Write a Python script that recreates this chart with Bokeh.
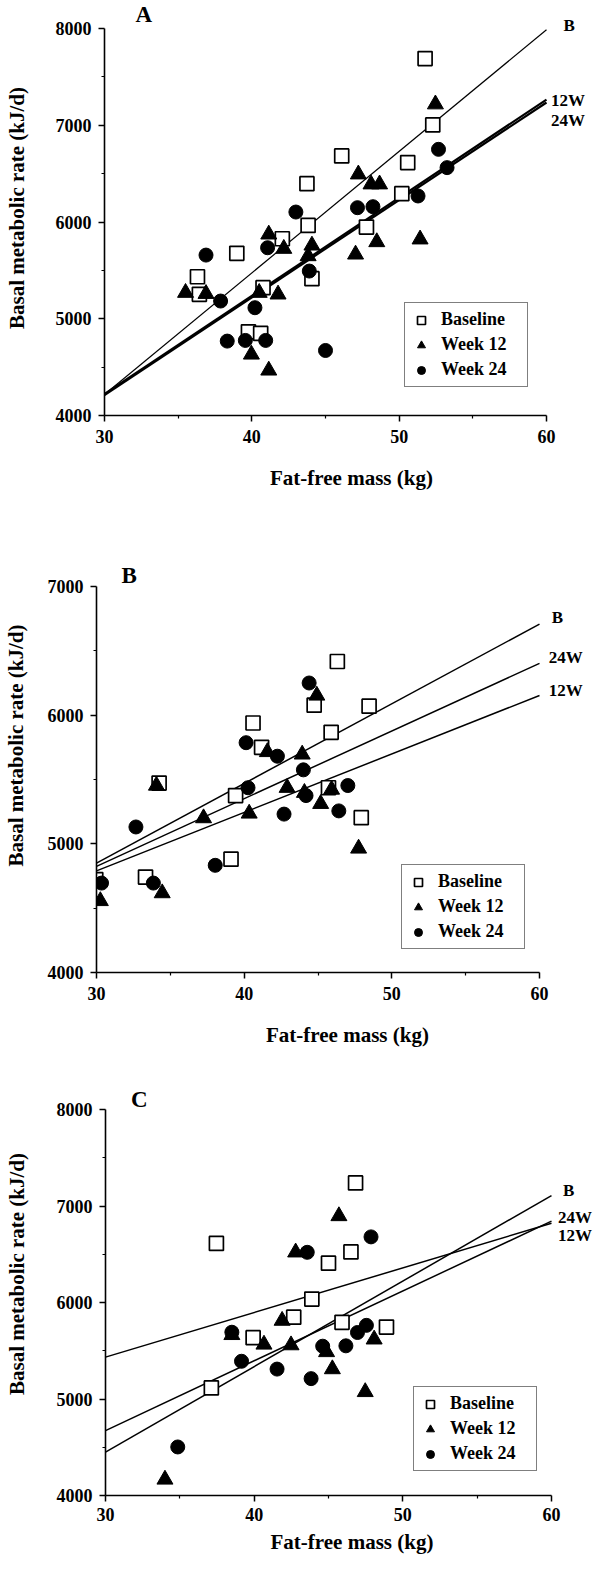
from bokeh.plotting import figure
from bokeh.models import Range1d, FixedTicker, Legend, LegendItem
from bokeh.core.properties import value
from bokeh.embed import file_html
from bokeh.resources import INLINE

FONT = "Liberation Serif"

# ---------------- data ----------------
series_names = ["Baseline", "Week 12", "Week 24"]
line_x = [30, 60]

# Panel A
a_base_x = [51.76, 52.28, 46.10, 50.58, 43.74, 50.18, 43.82, 47.78, 42.07, 38.98, 36.31, 36.44, 40.76, 44.08, 39.77, 40.60]
a_base_y = [7689, 7003, 6683, 6614, 6396, 6293, 5965, 5948, 5827, 5676, 5434, 5252, 5321, 5414, 4865, 4848]
a_w12_x = [52.46, 47.23, 48.09, 48.67, 41.15, 42.17, 44.08, 43.82, 47.04, 48.48, 51.42, 35.50, 36.89, 40.50, 41.78, 39.97, 41.15]
a_w12_y = [7217, 6493, 6390, 6390, 5872, 5724, 5758, 5648, 5665, 5793, 5821, 5269, 5258, 5269, 5252, 4631, 4466]
a_w24_x = [52.67, 53.25, 51.28, 42.99, 47.17, 48.22, 36.89, 41.07, 43.90, 37.88, 40.21, 38.33, 39.56, 40.94, 45.00]
a_w24_y = [6751, 6562, 6269, 6103, 6148, 6158, 5658, 5734, 5493, 5183, 5114, 4769, 4776, 4776, 4672]
a_line_base = [4217, 7987]
a_line_w12 = [4222, 7265]
a_line_w24 = [4212, 7235]
a_end_text = ["B", "12W", "24W"]
a_end_x = [61.15, 60.31, 60.31]
a_end_y = [8028, 7252, 7045]

# Panel B
b_base_x = [46.31, 44.74, 48.46, 40.60, 45.89, 41.18, 34.24, 39.42, 45.71, 47.93, 39.11, 33.32, 29.95]
b_base_y = [6417, 6078, 6070, 5939, 5867, 5750, 5472, 5375, 5436, 5203, 4881, 4742, 4722]
b_w12_x = [44.92, 41.57, 43.93, 34.06, 42.91, 45.92, 44.08, 45.18, 40.34, 37.25, 47.75, 34.45, 30.26]
b_w12_y = [6153, 5714, 5695, 5453, 5436, 5422, 5397, 5311, 5236, 5200, 4964, 4617, 4556]
b_w24_x = [44.40, 40.13, 42.25, 44.01, 40.26, 47.02, 44.19, 42.70, 46.41, 32.67, 38.04, 33.85, 30.34]
b_w24_y = [6250, 5786, 5681, 5575, 5436, 5453, 5375, 5231, 5256, 5131, 4833, 4695, 4695]
b_line_base = [4850, 6708]
b_line_w12 = [4790, 6153]
b_line_w24 = [4825, 6403]
b_end_text = ["B", "24W", "12W"]
b_end_x = [60.83, 60.62, 60.62]
b_end_y = [6756, 6450, 6189]

# Panel C
c_base_x = [46.82, 37.46, 46.51, 45.00, 43.88, 42.66, 45.91, 48.90, 39.93, 37.12]
c_base_y = [7239, 6612, 6524, 6407, 6036, 5848, 5795, 5745, 5635, 5115]
c_w12_x = [45.70, 42.79, 41.88, 38.50, 40.66, 42.48, 48.07, 44.87, 45.26, 47.47, 34.00]
c_w12_y = [6896, 6520, 5812, 5664, 5565, 5558, 5618, 5487, 5310, 5073, 4166]
c_w24_x = [47.86, 43.57, 38.50, 47.55, 46.95, 44.61, 46.17, 39.15, 41.54, 43.83, 34.86]
c_w24_y = [6680, 6520, 5692, 5763, 5689, 5547, 5551, 5391, 5310, 5211, 4503]
c_line_base = [4450, 7108]
c_line_w12 = [5434, 6821]
c_line_w24 = [4673, 6843]
c_end_text = ["B", "24W", "12W"]
c_end_x = [60.78, 60.44, 60.44]
c_end_y = [7161, 6884, 6690]

x_ticks = [30, 40, 50, 60]
x_minor = [35, 45, 55]


def make_panel(letter, ymax, bx, by, t12x, t12y, c24x, c24y,
               lb, l12, l24, line_widths, end_t, end_x, end_y, letter_pos,
               fl, ft, fw, fh, fig_h, legend_loc, xstand, xlabstand, ystand):
    fb = fig_h - ft - fh
    full_w = 598 - fl
    full_h = fh + ft
    x_end = 30 + full_w * 30.0 / fw
    y_end = 4000 + full_h * (ymax - 4000) / fh
    p = figure(frame_width=full_w, frame_height=full_h,
               min_border_left=fl, min_border_right=0,
               min_border_top=0, min_border_bottom=fb,
               x_range=Range1d(30, x_end), y_range=Range1d(4000, y_end),
               output_backend="svg", toolbar_location=None,
               background_fill_color="white", border_fill_color="white")
    p.outline_line_color = None
    p.grid.visible = False

    yt = list(range(4000, ymax + 1, 1000))
    ym = list(range(4500, ymax, 1000))
    p.yaxis.ticker = FixedTicker(ticks=yt, minor_ticks=ym)
    p.xaxis.ticker = FixedTicker(ticks=x_ticks, minor_ticks=x_minor)
    p.xaxis.bounds = (30, 60)
    p.yaxis.bounds = (4000, ymax)
    for ax in (p.xaxis[0], p.yaxis[0]):
        ax.axis_line_width = 1.6
        ax.axis_line_color = "black"
        ax.major_tick_line_width = 1.5
        ax.minor_tick_line_width = 1.2
        ax.major_tick_in = 0
        ax.major_tick_out = 6
        ax.minor_tick_in = 0
        ax.minor_tick_out = 3
        ax.major_label_text_font = FONT
        ax.major_label_text_font_style = "bold"
        ax.major_label_text_font_size = "18px"
        ax.major_label_text_color = "black"
        ax.axis_label_text_font = FONT
        ax.axis_label_text_font_style = "bold"
        ax.axis_label_text_color = "black"
    p.xaxis.axis_label_text_font_size = "21px"
    p.yaxis.axis_label_text_font_size = "21px"
    p.xaxis.axis_label = "Fat-free mass (kg)"
    p.yaxis.axis_label = "Basal metabolic rate (kJ/d)"
    p.yaxis.major_label_standoff = 7
    p.yaxis.axis_label_standoff = ystand
    p.xaxis.major_label_standoff = xlabstand
    p.xaxis.axis_label_standoff = xstand

    # regression lines
    p.line(line_x, lb, line_color="black", line_width=line_widths[0])
    p.line(line_x, l12, line_color="black", line_width=line_widths[1])
    p.line(line_x, l24, line_color="black", line_width=line_widths[2])

    r0 = p.scatter(bx, by, marker="square", size=14, fill_color="white",
                   line_color="black", line_width=1.7)
    r1 = p.scatter(t12x, t12y, marker="triangle", size=16, fill_color="black",
                   line_color="black", line_width=1)
    r2 = p.scatter(c24x, c24y, marker="circle", size=14, fill_color="black",
                   line_color="black", line_width=1)

    legend = Legend(items=[LegendItem(label=series_names[0], renderers=[r0]),
                           LegendItem(label=series_names[1], renderers=[r1]),
                           LegendItem(label=series_names[2], renderers=[r2])],
                    location=legend_loc)
    legend.label_text_font = FONT
    legend.label_text_font_style = "bold"
    legend.label_text_font_size = "18px"
    legend.label_text_color = "black"
    legend.glyph_width = 20
    legend.glyph_height = 20
    legend.label_height = 20
    legend.label_width = 80
    legend.label_standoff = 10
    legend.spacing = 4
    legend.padding = 6
    legend.margin = 0
    legend.border_line_color = "black"
    legend.border_line_width = 1.6
    legend.background_fill_color = "white"
    legend.background_fill_alpha = 1
    p.add_layout(legend, "center")

    p.text(x=end_x, y=end_y, text=end_t, text_font=value(FONT), text_font_style="bold",
           text_font_size="17px", text_align="left", text_baseline="middle",
           text_color="black")
    p.text(x=[letter_pos[0]], y=[letter_pos[1]], text=[letter], text_font=value(FONT),
           text_font_style="bold", text_font_size="23px", text_align="center",
           text_baseline="middle", text_color="black")
    return p


pa = make_panel("A", 8000, a_base_x, a_base_y, a_w12_x, a_w12_y, a_w24_x, a_w24_y,
                a_line_base, a_line_w12, a_line_w24, (1.2, 2.2, 2.2),
                a_end_text, a_end_x, a_end_y, (32.66, 8148),
                104, 28, 442, 387, 518, (300, 28), 20, 8, 24)
pb = make_panel("B", 7000, b_base_x, b_base_y, b_w12_x, b_w12_y, b_w24_x, b_w24_y,
                b_line_base, b_line_w12, b_line_w24, (1.5, 1.5, 1.5),
                b_end_text, b_end_x, b_end_y, (32.21, 7084),
                96, 68, 443, 386, 534, (305, 23), 20, 8, 17)
pc = make_panel("C", 8000, c_base_x, c_base_y, c_w12_x, c_w12_y, c_w24_x, c_w24_y,
                c_line_base, c_line_w12, c_line_w24, (1.5, 1.5, 1.5),
                c_end_text, c_end_x, c_end_y, (32.28, 8107),
                105, 57, 446, 386, 508, (308, 24), 6, 6, 25)

open("out.html", "w").write(file_html([pa, pb, pc], INLINE))
